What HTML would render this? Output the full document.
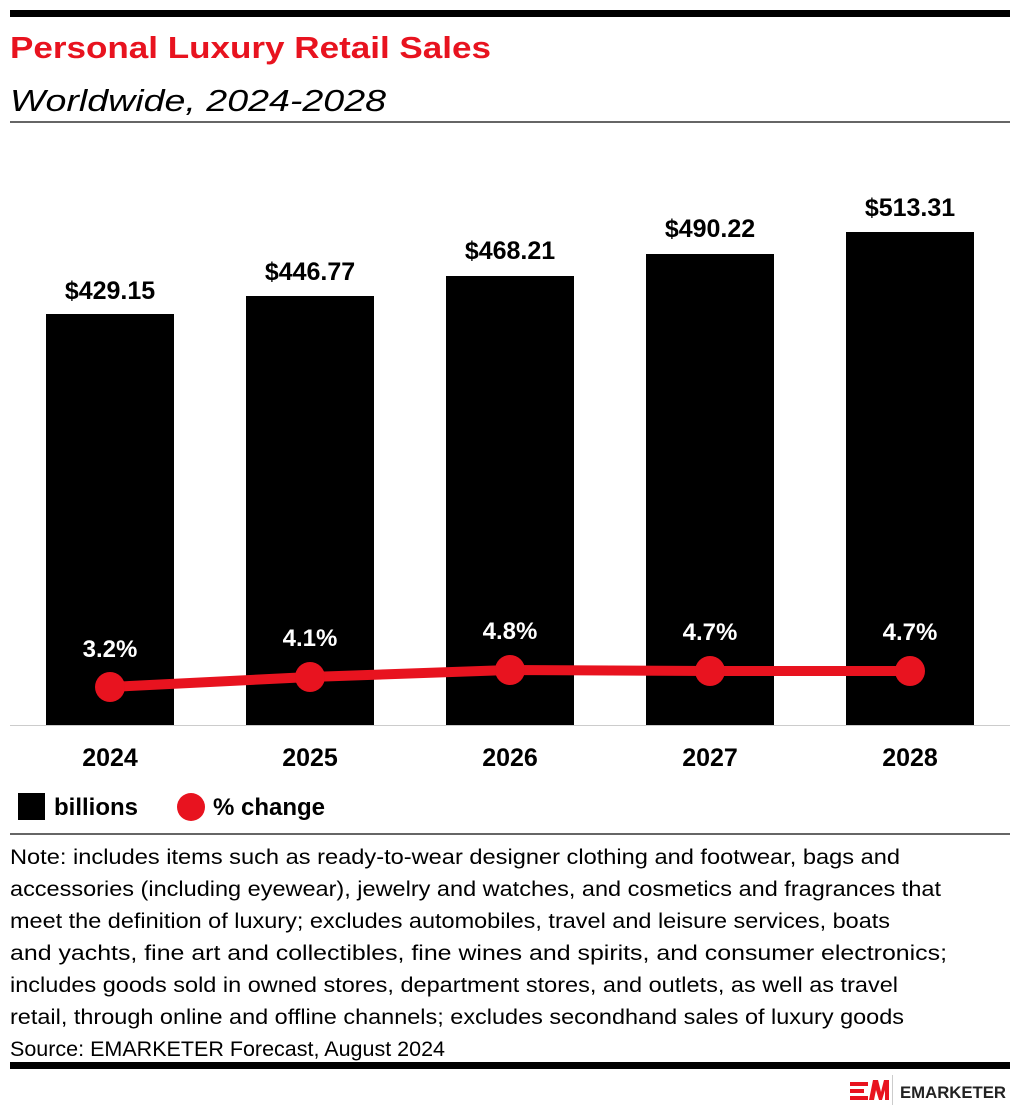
<!DOCTYPE html>
<html><head><meta charset="utf-8"><style>
html,body{margin:0;padding:0;background:#fff}
svg{display:block;font-family:"Liberation Sans",sans-serif}
</style></head><body>
<svg width="1020" height="1112" viewBox="0 0 1020 1112">
<rect x="10" y="10" width="1000" height="7" fill="#000"/>
<text x="10" y="58" font-size="31" font-weight="bold" fill="#e8131f" textLength="481" lengthAdjust="spacingAndGlyphs">Personal Luxury Retail Sales</text>
<text x="10" y="111" font-size="31" font-style="italic" fill="#000" textLength="376" lengthAdjust="spacingAndGlyphs">Worldwide, 2024-2028</text>
<rect x="10" y="121" width="1000" height="2" fill="#666"/>
<g fill="#000">
<rect x="46" y="314" width="128" height="412"/>
<rect x="246" y="296" width="128" height="430"/>
<rect x="446" y="276" width="128" height="450"/>
<rect x="646" y="254" width="128" height="472"/>
<rect x="846" y="232" width="128" height="494"/>
</g>
<rect x="10" y="725" width="1000" height="1" fill="#ccc"/>
<g font-size="25" font-weight="bold" text-anchor="middle" fill="#000">
<text x="110" y="299">$429.15</text>
<text x="310" y="280">$446.77</text>
<text x="510" y="259">$468.21</text>
<text x="710" y="237">$490.22</text>
<text x="910" y="216">$513.31</text>
<text x="110" y="766">2024</text>
<text x="310" y="766">2025</text>
<text x="510" y="766">2026</text>
<text x="710" y="766">2027</text>
<text x="910" y="766">2028</text>
</g>
<polyline points="110,687 310,677 510,670 710,671 910,671" fill="none" stroke="#e8131f" stroke-width="10" stroke-linejoin="round"/>
<g fill="#e8131f">
<circle cx="110" cy="687" r="15"/><circle cx="310" cy="677" r="15"/><circle cx="510" cy="670" r="15"/><circle cx="710" cy="671" r="15"/><circle cx="910" cy="671" r="15"/>
</g>
<g font-size="24" font-weight="bold" text-anchor="middle" fill="#fff">
<text x="110" y="657">3.2%</text>
<text x="310" y="646">4.1%</text>
<text x="510" y="639">4.8%</text>
<text x="710" y="640">4.7%</text>
<text x="910" y="640">4.7%</text>
</g>
<rect x="18" y="793" width="27" height="27" fill="#000"/>
<text x="54" y="815" font-size="24" font-weight="bold">billions</text>
<circle cx="191" cy="807" r="14" fill="#e8131f"/>
<text x="213" y="815" font-size="24" font-weight="bold">% change</text>
<rect x="10" y="833" width="1000" height="2" fill="#666"/>
<g font-size="21" fill="#000">
<text x="10" y="864" textLength="890" lengthAdjust="spacingAndGlyphs">Note: includes items such as ready-to-wear designer clothing and footwear, bags and</text>
<text x="10" y="896" textLength="931" lengthAdjust="spacingAndGlyphs">accessories (including eyewear), jewelry and watches, and cosmetics and fragrances that</text>
<text x="10" y="928" textLength="880" lengthAdjust="spacingAndGlyphs">meet the definition of luxury; excludes automobiles, travel and leisure services, boats</text>
<text x="10" y="960" textLength="937" lengthAdjust="spacingAndGlyphs">and yachts, fine art and collectibles, fine wines and spirits, and consumer electronics;</text>
<text x="10" y="992" textLength="888" lengthAdjust="spacingAndGlyphs">includes goods sold in owned stores, department stores, and outlets, as well as travel</text>
<text x="10" y="1024" textLength="894" lengthAdjust="spacingAndGlyphs">retail, through online and offline channels; excludes secondhand sales of luxury goods</text>
<text x="10" y="1056" textLength="435" lengthAdjust="spacingAndGlyphs">Source: EMARKETER Forecast, August 2024</text>
</g>
<rect x="10" y="1062" width="1000" height="7" fill="#000"/>
<g fill="#e8131f">
<rect x="850" y="1082" width="18" height="4"/>
<rect x="850" y="1089" width="14" height="4"/>
<rect x="850" y="1096" width="18" height="4"/>
<polygon points="869,1100 873,1080 878,1080 881,1092 884,1080 889,1080 889,1100 885,1100 885,1090 882,1100 879,1100 876,1090 874,1100"/>
</g>
<rect x="892" y="1075" width="1" height="30" fill="#ccc"/>
<text x="900" y="1098" font-size="17" font-weight="bold" fill="#222" textLength="106" lengthAdjust="spacingAndGlyphs">EMARKETER</text>
</svg>
</body></html>
